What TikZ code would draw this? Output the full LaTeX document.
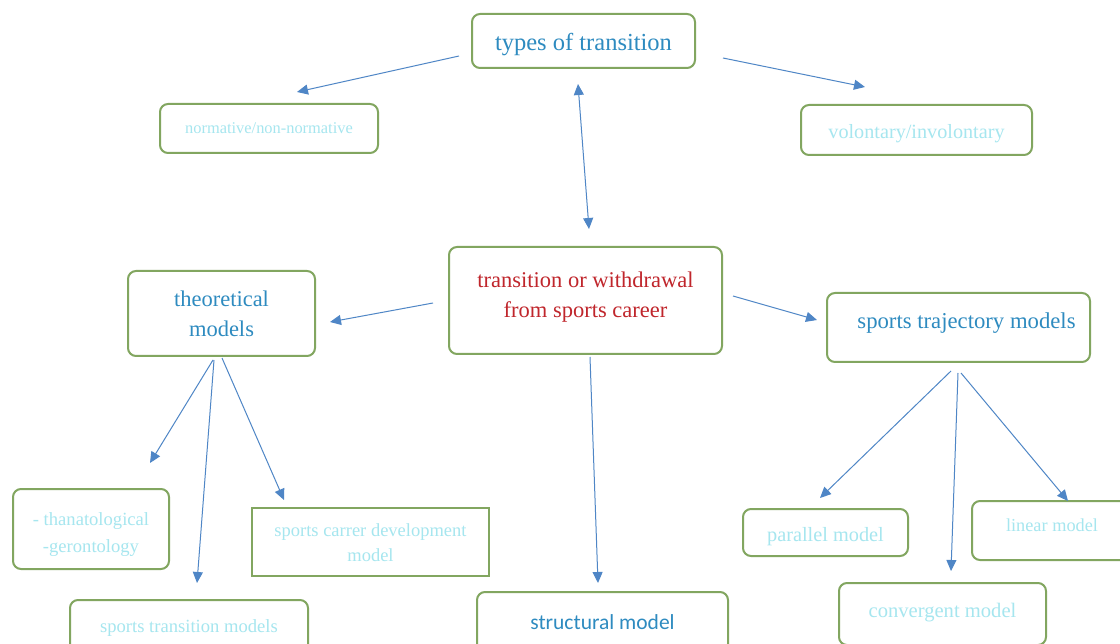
\documentclass[tikz,border=0pt]{standalone}
\usepackage{fontspec}
\setmainfont{Liberation Serif}
\newfontfamily\calfont{Carlito}
\usetikzlibrary{arrows.meta}
\definecolor{boxgreen}{HTML}{82A660}
\definecolor{txtblue}{HTML}{2E8BC0}
\definecolor{txtcyan}{HTML}{A6E6EF}
\definecolor{txtred}{HTML}{C0262C}
\definecolor{arrblue}{HTML}{4F86C6}
% move the glyphs of a text by (dx,dy) without changing its box
\newcommand{\txtmove}[3]{\raisebox{-#2}[\height][\depth]{\kern#1\begin{tabular}{@{}c@{}}#3\end{tabular}\kern-#1}}
\tikzset{
  box/.style={draw=boxgreen, line width=2pt, rounded corners=8pt, fill=white, inner sep=0pt, align=center},
  sqbox/.style={draw=boxgreen, line width=2pt, fill=white, inner sep=0pt, align=center},
  link/.style={draw=arrblue, line width=1pt, -{Triangle[length=11pt,width=10pt]}},
  dlink/.style={draw=arrblue, line width=1pt, {Triangle[length=11pt,width=10pt]}-{Triangle[length=11pt,width=10pt]}}
}
\begin{document}
\begin{tikzpicture}[x=1pt,y=-1pt]
\clip (0,0) rectangle (1120,644);
\fill[white] (0,0) rectangle (1120,644);
% nodes
\node[box, minimum width=223pt, minimum height=54pt, text=txtblue, font=\fontsize{24.5}{30}\selectfont] (types) at (583.5,41) {\txtmove{0pt}{4pt}{types of transition}};
\node[box, minimum width=218pt, minimum height=49pt, text=txtcyan, font=\fontsize{16.4}{20}\selectfont] (norm) at (269,128.5) {normative/non-normative};
\node[box, minimum width=231pt, minimum height=50pt, text=txtcyan, font=\fontsize{20.2}{24}\selectfont] (vol) at (916.5,130) {\txtmove{0pt}{4pt}{volontary/involontary}};
\node[box, minimum width=273pt, minimum height=107pt, text=txtred, font=\fontsize{22.5}{30}\selectfont] (center) at (585.5,300.5) {\txtmove{0pt}{-4pt}{transition or withdrawal\\from sports career}};
\node[box, minimum width=187pt, minimum height=85pt, text=txtblue, font=\fontsize{22.5}{30}\selectfont] (theo) at (221.5,313.5) {theoretical\\models};
\node[box, minimum width=263pt, minimum height=69pt, text=txtblue, font=\fontsize{22.7}{28}\selectfont] (traj) at (958.5,327.5) {\txtmove{8pt}{-5pt}{sports trajectory models}};
\node[box, minimum width=156pt, minimum height=80pt, text=txtcyan, font=\fontsize{18.6}{27}\selectfont] (than) at (91,529) {\txtmove{0pt}{5pt}{- thanatological\\-gerontology}};
\node[sqbox, minimum width=237pt, minimum height=68pt, text=txtcyan, font=\fontsize{18.5}{25}\selectfont] (carrer) at (370.5,542) {\txtmove{0pt}{2pt}{sports carrer development\\model}};
\node[box, minimum width=238pt, minimum height=56pt, text=txtcyan, font=\fontsize{18.6}{24}\selectfont] (stm) at (189,628) {sports transition models};
\node[box, minimum width=251pt, minimum height=60pt, text=txtblue, font=\calfont\fontsize{21.5}{26}\selectfont] (struct) at (602.5,622) {structural model};
\node[box, minimum width=165pt, minimum height=47pt, text=txtcyan, font=\fontsize{20.3}{24}\selectfont] (par) at (825.5,532.5) {\txtmove{0pt}{4pt}{parallel model}};
\node[box, minimum width=160pt, minimum height=59pt, text=txtcyan, font=\fontsize{18.3}{22}\selectfont] (lin) at (1052,530.5) {\txtmove{0pt}{-3pt}{linear model}};
\node[box, minimum width=207pt, minimum height=62pt, text=txtcyan, font=\fontsize{20.6}{24}\selectfont] (conv) at (942.5,614) {\txtmove{0pt}{-1pt}{convergent model}};
% connector end points
\coordinate (t1) at (459,56);   \coordinate (n1) at (297,92);
\coordinate (t2) at (723,58);   \coordinate (v1) at (865,87);
\coordinate (t3) at (578,84);   \coordinate (c0) at (589,229);
\coordinate (c1) at (433,303);  \coordinate (th1) at (330,322);
\coordinate (c2) at (733,296);  \coordinate (tr1) at (817,320);
\coordinate (c3) at (590,357);  \coordinate (s1) at (598,583);
\coordinate (th2) at (213,360); \coordinate (a1) at (150,463);
\coordinate (th3) at (214,360); \coordinate (st1) at (197,583);
\coordinate (th4) at (222,358); \coordinate (cr1) at (284,500);
\coordinate (tr2) at (951,371); \coordinate (p1) at (820,498);
\coordinate (tr3) at (958,373); \coordinate (cv1) at (951,571);
\coordinate (tr4) at (961,373); \coordinate (l1) at (1068,501);
% connectors
\draw[link] (t1) -- (n1);
\draw[link] (t2) -- (v1);
\draw[dlink] (t3) -- (c0);
\draw[link] (c1) -- (th1);
\draw[link] (c2) -- (tr1);
\draw[link] (c3) -- (s1);
\draw[link] (th2) -- (a1);
\draw[link] (th3) -- (st1);
\draw[link] (th4) -- (cr1);
\draw[link] (tr2) -- (p1);
\draw[link] (tr3) -- (cv1);
\draw[link] (tr4) -- (l1);
\end{tikzpicture}
\end{document}
